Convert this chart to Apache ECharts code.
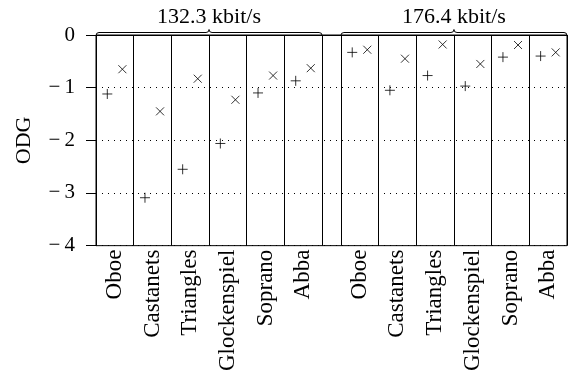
<!DOCTYPE html>
<html>
<head>
<meta charset="utf-8">
<script src="https://cdn.jsdelivr.net/npm/echarts@6/dist/echarts.min.js"></script>
<style>
  html, body { margin: 0; padding: 0; background: #fff; }
  #chart { width: 568px; height: 374px; }
</style>
</head>
<body>
<div id="chart"></div>
<script>
// categories and bitrate groups
const categories = ['Oboe', 'Castanets', 'Triangles', 'Glockenspiel', 'Soprano', 'Abba'];
const groupLabels = ['132.3 kbit/s', '176.4 kbit/s'];
const yTicks = [-4, -3, -2, -1, 0];

// ODG values ("+" and "x" marks)
const plus132 = [-1.12, -3.09, -2.55, -2.06, -1.10, -0.87];
const cross132 = [-0.65, -1.45, -0.83, -1.23, -0.77, -0.63];
const plus176 = [-0.33, -1.05, -0.77, -0.97, -0.42, -0.40];
const cross176 = [-0.28, -0.45, -0.18, -0.55, -0.19, -0.33];

// x layout: group 1 occupies 0..6, a half-slot gap, group 2 occupies 6.5..12.5
const groupStart = [0, 6.5];
const offset = 0.2;

const font = 'Liberation Serif, Times New Roman, serif';

function center(g, i) {
    return groupStart[g] + i + 0.5;
}

function points(vals, g, dx) {
    return vals.map((v, i) => [center(g, i) + dx, v]);
}

const plusData = points(plus132, 0, -offset).concat(points(plus176, 1, -offset));
const crossData = points(cross132, 0, offset).concat(points(cross176, 1, offset));

// vertical separators between categories
const separators = [];
groupStart.forEach(s => {
    for (let i = 0; i <= categories.length; i++) separators.push({ xAxis: s + i });
});

const chart = echarts.init(document.getElementById('chart'));

const option = {
    animation: false,
    grid: {
        left: 96,
        right: 1,
        top: 35,
        bottom: 127,
        show: true,
        borderColor: '#000',
        borderWidth: 1,
        backgroundColor: 'transparent'
    },
    xAxis: {
        type: 'value',
        min: 0,
        max: groupStart[1] + categories.length,
        interval: 0.5,
        axisLine: { show: true, lineStyle: { color: '#000' } },
        axisTick: { show: false },
        splitLine: { show: false },
        axisLabel: {
            rotate: 90,
            margin: 4,
            color: '#000',
            fontFamily: font,
            fontSize: 23,
            formatter: function (v) {
                for (let g = 0; g < groupStart.length; g++) {
                    const idx = v - groupStart[g] - 0.5;
                    if (Number.isInteger(idx) && idx >= 0 && idx < categories.length) {
                        return categories[idx];
                    }
                }
                return '';
            }
        }
    },
    yAxis: {
        type: 'value',
        min: yTicks[0],
        max: yTicks[yTicks.length - 1],
        interval: 1,
        name: 'ODG',
        nameLocation: 'middle',
        nameGap: 61,
        nameRotate: 90,
        nameTextStyle: { color: '#000', fontFamily: font, fontSize: 22 },
        axisLine: { show: true, lineStyle: { color: '#000' } },
        axisTick: { show: true, inside: false, length: 10, lineStyle: { color: '#000' } },
        axisLabel: {
            margin: 21,
            color: '#000',
            fontFamily: font,
            fontSize: 21,
            formatter: v => String(v).replace('-', '\u2212\u2009')
        },
        splitLine: {
            show: true,
            lineStyle: { color: '#000', type: [1, 5], width: 1 }
        }
    },
    series: [
        {
            type: 'scatter',
            name: 'plus',
            data: plusData,
            symbol: 'path://M0,5L10,5M5,0L5,10',
            symbolSize: 10,
            itemStyle: { color: 'rgba(0,0,0,0)', borderColor: '#000', borderWidth: 1 },
            markLine: {
                silent: true,
                symbol: 'none',
                label: { show: false },
                lineStyle: { color: '#000', type: 'solid', width: 1 },
                data: separators
            },
            z: 3
        },
        {
            type: 'scatter',
            name: 'cross',
            data: crossData,
            symbol: 'path://M0,0L10,10M10,0L0,10',
            symbolSize: 8,
            itemStyle: { color: 'rgba(0,0,0,0)', borderColor: '#000', borderWidth: 1 },
            z: 3
        }
    ]
};

chart.setOption(option);

// braces and group labels above the plot
const stroke = { stroke: '#000', lineWidth: 1, fill: 'none' };
const graphics = [];
groupStart.forEach((s, g) => {
    const x1 = chart.convertToPixel({ xAxisIndex: 0 }, s);
    const x2 = chart.convertToPixel({ xAxisIndex: 0 }, s + categories.length);
    const xm = (x1 + x2) / 2;
    const y0 = chart.convertToPixel({ yAxisIndex: 0 }, 0) + 0.5;
    const h = 3;
    const yb = y0 - h;
    const curves = [
        [x1, y0, x1 + h, yb, x1, yb],
        [xm - h, yb, xm, y0 - 2 * h, xm, yb],
        [xm, y0 - 2 * h, xm + h, yb, xm, yb],
        [x2 - h, yb, x2, y0, x2, yb]
    ];
    curves.forEach(c => graphics.push({
        type: 'bezierCurve',
        shape: { x1: c[0], y1: c[1], x2: c[2], y2: c[3], cpx1: c[4], cpy1: c[5] },
        style: stroke
    }));
    graphics.push({
        type: 'line',
        shape: { x1: x1 + h, y1: yb, x2: xm - h, y2: yb },
        style: stroke
    });
    graphics.push({
        type: 'line',
        shape: { x1: xm + h, y1: yb, x2: x2 - h, y2: yb },
        style: stroke
    });
    graphics.push({
        type: 'text',
        x: xm,
        y: y0 - 2 * h - 1,
        style: {
            text: groupLabels[g],
            fill: '#000',
            font: '22px ' + font,
            textAlign: 'center',
            textVerticalAlign: 'bottom'
        }
    });
});
chart.setOption({ graphic: graphics });
</script>
</body>
</html>
